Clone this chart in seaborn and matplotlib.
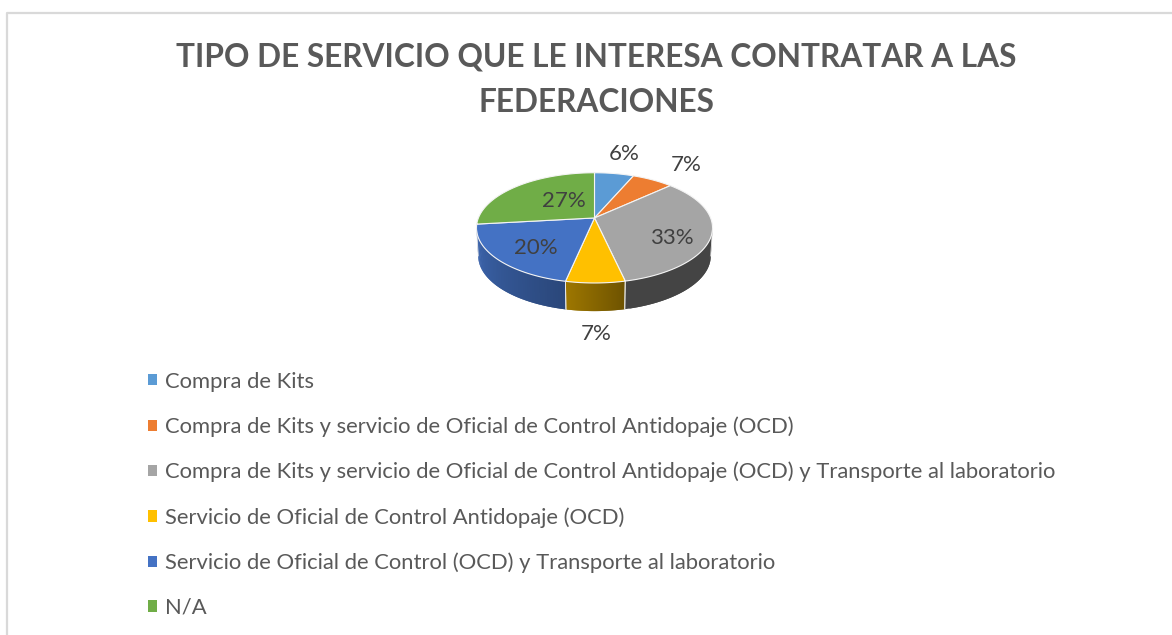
import numpy as np
import matplotlib
matplotlib.use("Agg")
import matplotlib.pyplot as plt
from matplotlib.patches import Patch
from matplotlib.lines import Line2D
import seaborn as sns

TITLE = "TIPO DE SERVICIO QUE LE INTERESA CONTRATAR A LAS\nFEDERACIONES"
CATEGORIES = [
    "Compra de Kits",
    "Compra de Kits y servicio de Oficial de Control Antidopaje (OCD)",
    "Compra de Kits y servicio de Oficial de Control Antidopaje (OCD) y Transporte al laboratorio",
    "Servicio de Oficial de Control Antidopaje (OCD)",
    "Servicio de Oficial de Control (OCD) y Transporte al laboratorio",
    "N/A",
]
# read from the slice edges, they round to the printed percentages
VALUES = [6.4, 6.7, 33.4, 6.8, 19.9, 26.8]
COLORS = ["#5B9BD5", "#ED7D31", "#A5A5A5", "#FFC000", "#4472C4", "#70AD47"]

W, H = 1172, 635
TILT = 0.18  # the hub sits above the middle of the ellipse
DEPTH = 0.51  # side wall, in units of the flattened pie radius
WALL_SHRINK = 0.985
# side wall shading of each slice, left end and right end
SHADES = [(.6, .6), (.6, .6), (.41, .41), (.62, .43), (.9, .62), (.6, .6)]
# label anchors in pixels of the picture
LABEL_POS = [(624, 154), (686, 165), (672, 238), (596, 334), (536, 248), (564, 201)]


def px(x, y):
    return x / W, 1 - y / H


def tilt(x, y):
    # perspective of a tilted disc, the rim stays on the same ellipse
    d = 1 + TILT * y
    return x * np.sqrt(1 - TILT ** 2) / d, (y + TILT) / d


def draw_wall(ax, wedge, col, shade):
    th = np.radians(np.linspace(wedge.theta1, wedge.theta2, 240))
    x, y = tilt(np.cos(th), np.sin(th))
    front = y <= 0
    if front.sum() < 2:
        return
    x, y = x[front], y[front]
    n = len(x)
    for i in range(0, n - 1, 4):
        j = min(i + 8, n - 1)  # overlap so the strips leave no seams
        xs = x[i:j + 1]
        ys = y[i:j + 1]
        f = shade[0] + (shade[1] - shade[0]) * i / n
        c = tuple(np.array(col) * f)
        ax.fill(np.r_[xs, xs[::-1] * WALL_SHRINK], np.r_[ys, ys[::-1] - DEPTH], color=c, lw=0)
    for k in (0, -1):
        ax.plot([x[k], x[k] * WALL_SHRINK], [y[k], y[k] - DEPTH], color="#ececec", lw=0.6)


def draw_top(ax, wedge, col):
    th = np.radians(np.linspace(wedge.theta1, wedge.theta2, 120))
    x, y = tilt(np.cos(th), np.sin(th))
    hx, hy = tilt(0.0, 0.0)
    ax.fill(np.r_[hx, x], np.r_[hy, y], facecolor=col, edgecolor="#f4f4f4", lw=0.8, joinstyle="round")


def main():
    sns.set_theme(style="white")
    plt.rcParams["font.family"] = ["Lato", "DejaVu Sans"]
    colors = sns.color_palette(COLORS)

    fig = plt.figure(figsize=(W / 100, H / 100), dpi=100, facecolor="white")

    # chart frame, open on the right and at the bottom
    fig.add_artist(Line2D([7 / W, 7 / W, 1], [0, 1 - 13 / H, 1 - 13 / H], color="#d9d9d9", lw=1.6))

    # flattened pie: 238 wide, 111 high, the wall below it
    left, top = px(475.3, 172.2)
    ax = fig.add_axes([left, top - 140 / H, 238.4 / W, 140 / H])
    wedges, _ = ax.pie(VALUES, startangle=90, counterclock=False)
    # the pie gives the angles, the slices are redrawn in perspective
    for w, c, s in zip(wedges, colors, SHADES):
        w.set_visible(False)
        draw_wall(ax, w, c, s)
    for w, c in zip(wedges, colors):
        draw_top(ax, w, c)
    ax.set_aspect("auto")
    ax.set_xlim(-1.01, 1.01)
    ax.set_ylim(-1 - DEPTH - 0.02, 1.01)
    ax.axis("off")

    fig.text(596.5 / W, 1 - 80 / H, TITLE, ha="center", va="center", fontsize=22.8, fontweight="bold",
             color="#595959", linespacing=1.7)

    for v, (x, y) in zip(VALUES, LABEL_POS):
        fx, fy = px(x, y)
        fig.text(fx, fy, f"{v:.0f}%", ha="center", va="center", fontsize=16, color="#404040")

    handles = [Patch(facecolor=c, edgecolor="none") for c in colors]
    fig.legend(handles, CATEGORIES, loc="upper left", bbox_to_anchor=px(141.4, 365), frameon=False,
               fontsize=15.8, labelcolor="#595959", handlelength=0.41, handleheight=0.41,
               handletextpad=0.36, labelspacing=1.13, borderpad=0.3, borderaxespad=0)

    fig.savefig("out.png", dpi=100)


if __name__ == "__main__":
    main()
